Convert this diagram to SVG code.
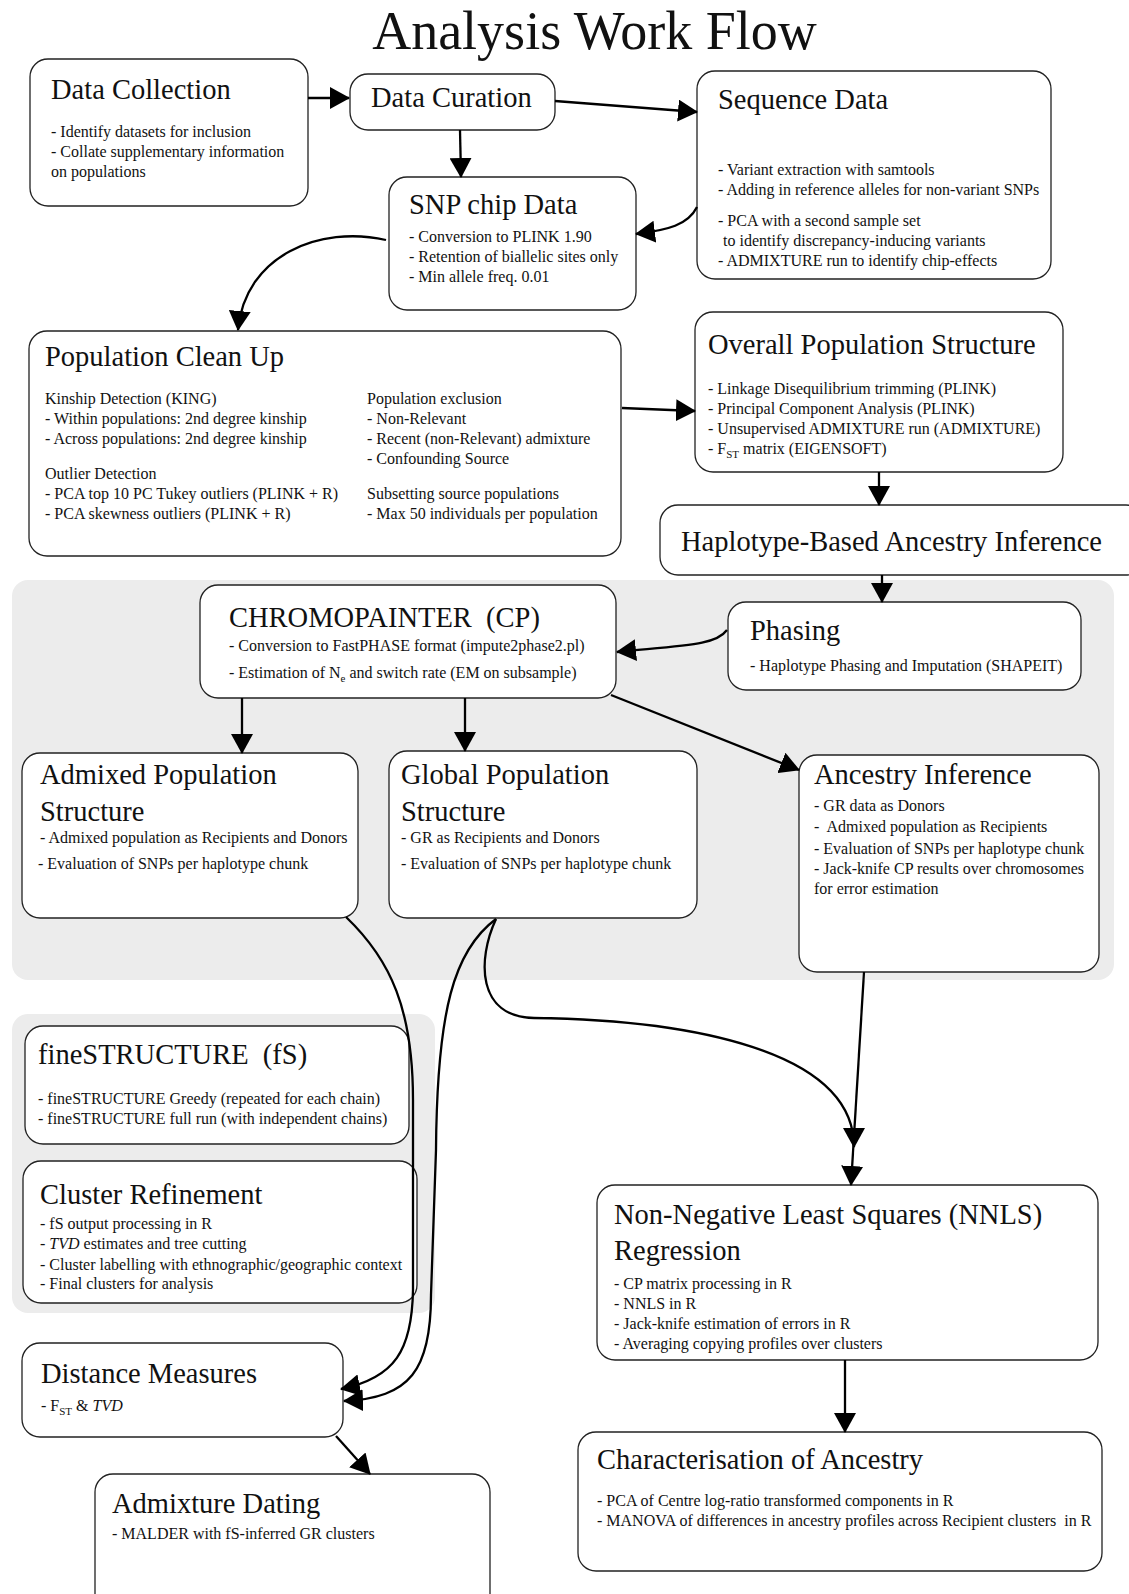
<svg xmlns="http://www.w3.org/2000/svg" width="1129" height="1594" viewBox="0 0 1129 1594">
<style>
text{font-family:"Liberation Serif","Times New Roman",serif;fill:#111;white-space:pre}
.h{font-size:28.5px}
.b{font-size:16px}
.box{fill:#fff;stroke:#222;stroke-width:1.3}
.panel{fill:#ececec;stroke:none}
.c{fill:none;stroke:#000;stroke-width:2.3;marker-end:url(#ah)}
</style>
<defs>
<marker id="ah" markerUnits="userSpaceOnUse" viewBox="0 0 20 22" markerWidth="20" markerHeight="22" refX="19" refY="11" orient="auto">
<path d="M0,0 L20,11 L0,22 z" fill="#000"/>
</marker>
</defs>
<rect width="1129" height="1594" fill="#fff"/>
<text x="594.5" y="49" text-anchor="middle" style="font-size:54px">Analysis Work Flow</text>

<g id="panels">
<rect class="panel" x="12" y="580" width="1102" height="400" rx="16"/>
<rect class="panel" x="12" y="1014" width="423" height="299" rx="16"/>
</g>

<g id="data-collection">
<rect class="box" x="30" y="59" width="278" height="147" rx="18"/>
<text class="h" x="51" y="99">Data Collection</text>
<text class="b" x="51" y="137">- Identify datasets for inclusion</text>
<text class="b" x="51" y="157">- Collate supplementary information</text>
<text class="b" x="51" y="177">on populations</text>
</g>

<g id="data-curation">
<rect class="box" x="350" y="74" width="205" height="56" rx="18"/>
<text class="h" x="371" y="107">Data Curation</text>
</g>

<g id="sequence-data">
<rect class="box" x="697" y="71" width="354" height="208" rx="18"/>
<text class="h" x="718" y="109">Sequence Data</text>
<text class="b" x="718" y="175">- Variant extraction with samtools</text>
<text class="b" x="718" y="195">- Adding in reference alleles for non-variant SNPs</text>
<text class="b" x="718" y="226">- PCA with a second sample set</text>
<text class="b" x="723" y="246">to identify discrepancy-inducing variants</text>
<text class="b" x="718" y="266">- ADMIXTURE run to identify chip-effects</text>
</g>

<g id="snp-chip-data">
<rect class="box" x="389" y="177" width="247" height="133" rx="18"/>
<text class="h" x="409" y="214">SNP chip Data</text>
<text class="b" x="409" y="242">- Conversion to PLINK 1.90</text>
<text class="b" x="409" y="262">- Retention of biallelic sites only</text>
<text class="b" x="409" y="282">- Min allele freq. 0.01</text>
</g>

<g id="population-clean-up">
<rect class="box" x="29" y="331" width="592" height="225" rx="18"/>
<text class="h" x="45" y="366">Population Clean Up</text>
<text class="b" x="45" y="404">Kinship Detection (KING)</text>
<text class="b" x="45" y="424">- Within populations: 2nd degree kinship</text>
<text class="b" x="45" y="444">- Across populations: 2nd degree kinship</text>
<text class="b" x="45" y="479">Outlier Detection</text>
<text class="b" x="45" y="499">- PCA top 10 PC Tukey outliers (PLINK + R)</text>
<text class="b" x="45" y="519">- PCA skewness outliers (PLINK + R)</text>
<text class="b" x="367" y="404">Population exclusion</text>
<text class="b" x="367" y="424">- Non-Relevant</text>
<text class="b" x="367" y="444">- Recent (non-Relevant) admixture</text>
<text class="b" x="367" y="464">- Confounding Source</text>
<text class="b" x="367" y="499">Subsetting source populations</text>
<text class="b" x="367" y="519">- Max 50 individuals per population</text>
</g>

<g id="overall-population-structure">
<rect class="box" x="695" y="312" width="368" height="160" rx="18"/>
<text class="h" x="708" y="354">Overall Population Structure</text>
<text class="b" x="708" y="394">- Linkage Disequilibrium trimming (PLINK)</text>
<text class="b" x="708" y="414">- Principal Component Analysis (PLINK)</text>
<text class="b" x="708" y="434">- Unsupervised ADMIXTURE run (ADMIXTURE)</text>
<text class="b" x="708" y="454">- F<tspan font-size="11" dy="4">ST</tspan><tspan dy="-4"> matrix (EIGENSOFT)</tspan></text>
</g>

<g id="haplotype-based-ancestry-inference">
<rect class="box" x="660" y="505" width="484" height="70" rx="18"/>
<text class="h" x="681" y="551">Haplotype-Based Ancestry Inference</text>
</g>

<g id="chromopainter">
<rect class="box" x="200" y="585" width="416" height="113" rx="18"/>
<text class="h" x="229" y="627">CHROMOPAINTER  (CP)</text>
<text class="b" x="229" y="651">- Conversion to FastPHASE format (impute2phase2.pl)</text>
<text class="b" x="229" y="678">- Estimation of N<tspan font-size="11" dy="4">e</tspan><tspan dy="-4"> and switch rate (EM on subsample)</tspan></text>
</g>

<g id="phasing">
<rect class="box" x="728" y="602" width="353" height="88" rx="18"/>
<text class="h" x="750" y="640">Phasing</text>
<text class="b" x="750" y="671">- Haplotype Phasing and Imputation (SHAPEIT)</text>
</g>

<g id="admixed-population-structure">
<rect class="box" x="22" y="753" width="336" height="165" rx="18"/>
<text class="h" x="40" y="784">Admixed Population</text>
<text class="h" x="40" y="821">Structure</text>
<text class="b" x="40" y="843">- Admixed population as Recipients and Donors</text>
<text class="b" x="38" y="869">- Evaluation of SNPs per haplotype chunk</text>
</g>

<g id="global-population-structure">
<rect class="box" x="389" y="751" width="308" height="167" rx="18"/>
<text class="h" x="401" y="784">Global Population</text>
<text class="h" x="401" y="821">Structure</text>
<text class="b" x="401" y="843">- GR as Recipients and Donors</text>
<text class="b" x="401" y="869">- Evaluation of SNPs per haplotype chunk</text>
</g>

<g id="ancestry-inference">
<rect class="box" x="799" y="755" width="300" height="217" rx="18"/>
<text class="h" x="814" y="784">Ancestry Inference</text>
<text class="b" x="814" y="811">- GR data as Donors</text>
<text class="b" x="814" y="832">-  Admixed population as Recipients</text>
<text class="b" x="814" y="854">- Evaluation of SNPs per haplotype chunk</text>
<text class="b" x="814" y="874">- Jack-knife CP results over chromosomes</text>
<text class="b" x="814" y="894">for error estimation</text>
</g>

<g id="finestructure">
<rect class="box" x="25" y="1026" width="384" height="118" rx="18"/>
<text class="h" x="38" y="1064">fineSTRUCTURE  (fS)</text>
<text class="b" x="38" y="1104">- fineSTRUCTURE Greedy (repeated for each chain)</text>
<text class="b" x="38" y="1124">- fineSTRUCTURE full run (with independent chains)</text>
</g>

<g id="cluster-refinement">
<rect class="box" x="23" y="1161" width="394" height="142" rx="18"/>
<text class="h" x="40" y="1204">Cluster Refinement</text>
<text class="b" x="40" y="1229">- fS output processing in R</text>
<text class="b" x="40" y="1249">- <tspan font-style="italic">TVD</tspan> estimates and tree cutting</text>
<text class="b" x="40" y="1270">- Cluster labelling with ethnographic/geographic context</text>
<text class="b" x="40" y="1289">- Final clusters for analysis</text>
</g>

<g id="nnls-regression">
<rect class="box" x="597" y="1185" width="501" height="175" rx="18"/>
<text class="h" x="614" y="1224">Non-Negative Least Squares (NNLS)</text>
<text class="h" x="614" y="1260">Regression</text>
<text class="b" x="614" y="1289">- CP matrix processing in R</text>
<text class="b" x="614" y="1309">- NNLS in R</text>
<text class="b" x="614" y="1329">- Jack-knife estimation of errors in R</text>
<text class="b" x="614" y="1349">- Averaging copying profiles over clusters</text>
</g>

<g id="distance-measures">
<rect class="box" x="22" y="1343" width="321" height="94" rx="18"/>
<text class="h" x="41" y="1383">Distance Measures</text>
<text class="b" x="41" y="1411">- F<tspan font-size="11" dy="4">ST</tspan><tspan dy="-4"> &amp; </tspan><tspan font-style="italic">TVD</tspan></text>
</g>

<g id="admixture-dating">
<rect class="box" x="95" y="1474" width="395" height="150" rx="18"/>
<text class="h" x="112" y="1513">Admixture Dating</text>
<text class="b" x="112" y="1539">- MALDER with fS-inferred GR clusters</text>
</g>

<g id="characterisation-of-ancestry">
<rect class="box" x="578" y="1432" width="524" height="139" rx="18"/>
<text class="h" x="597" y="1469">Characterisation of Ancestry</text>
<text class="b" x="597" y="1506">- PCA of Centre log-ratio transformed components in R</text>
<text class="b" x="597" y="1526">- MANOVA of differences in ancestry profiles across Recipient clusters  in R</text>
</g>

<g id="connectors">
<path class="c" d="M308,98 L349,98"/>
<path class="c" d="M555,101 L697,112"/>
<path class="c" d="M460,130 L461,177"/>
<path class="c" d="M697,207 C688,225 668,230 636,234"/>
<path class="c" d="M386,240 C320,225 245,255 238,330"/>
<path class="c" d="M622,408 L695,411"/>
<path class="c" d="M879,472 L879,505"/>
<path class="c" d="M882,575 L882,602"/>
<path class="c" d="M727,630 C716,645 688,645 617,652"/>
<path class="c" d="M242,698 L242,753"/>
<path class="c" d="M465,698 L465,751"/>
<path class="c" d="M611,695 L799,770"/>
<path class="c" d="M864,972 L851,1185"/>
<path class="c" d="M496,919 C477,960 477,1017 534,1018 C689,1020 854,1050 854,1147"/>
<path class="c" d="M346,917 C391,960 413,1010 413,1100 L413,1290 C412,1350 395,1378 341,1389"/>
<path class="c" d="M496,919 C454,950 437,1010 436,1150 L431,1295 C431,1370 410,1398 344,1401"/>
<path class="c" d="M845,1360 L845,1432"/>
<path class="c" d="M336,1436 L370,1474"/>
</g>
</svg>
